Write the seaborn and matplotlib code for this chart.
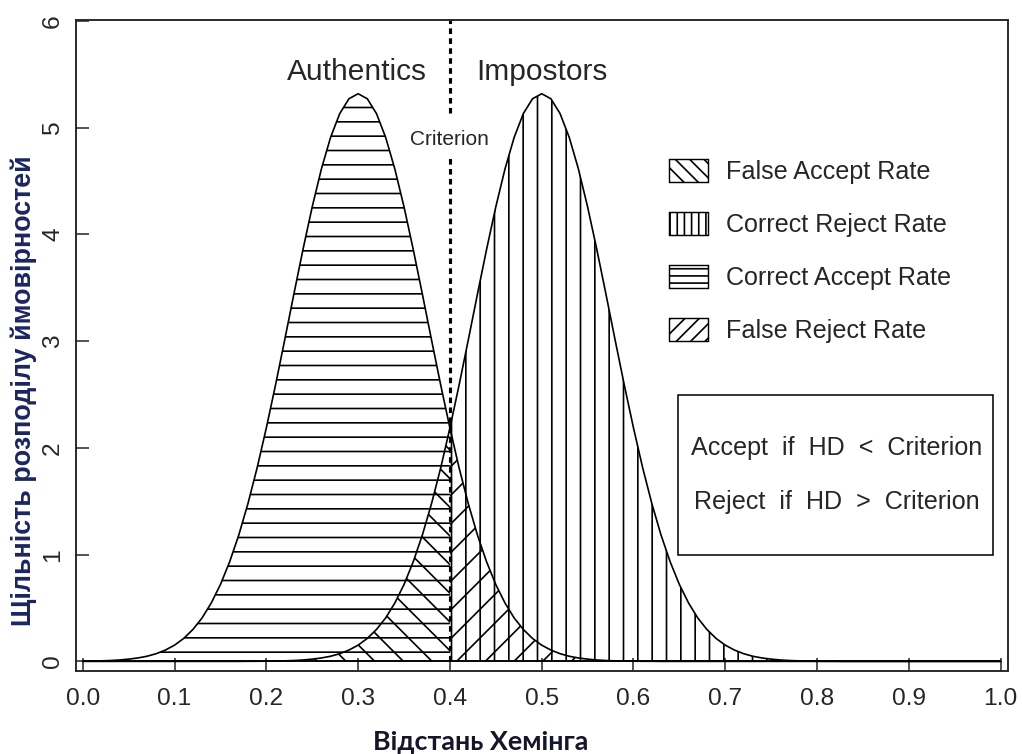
#%%
import numpy as np
import pandas as pd
import seaborn as sns
import matplotlib.pyplot as plt
from matplotlib.patches import Patch, Rectangle

# hamming distance grid, step 0.01
hd = np.round(np.arange(101) * 0.01, 2)

# density values (x = 0.00 ... 1.00)
authentics = [
    0.002, 0.003, 0.005, 0.008, 0.013, 0.021, 0.032, 0.048, 0.072, 0.106,
    0.152, 0.215, 0.299, 0.407, 0.547, 0.720, 0.932, 1.184, 1.479, 1.814,
    2.187, 2.589, 3.011, 3.441, 3.862, 4.259, 4.614, 4.910, 5.133, 5.272,
    5.319, 5.272, 5.133, 4.910, 4.614, 4.259, 3.862, 3.441, 3.011, 2.589,
    2.187, 1.814, 1.479, 1.184, 0.932, 0.720, 0.547, 0.407, 0.299, 0.215,
    0.152, 0.106, 0.072, 0.048, 0.032, 0.021, 0.013, 0.008, 0.005, 0.003,
    0.002, 0.001, 0.001, 0, 0, 0, 0, 0, 0, 0,
    0, 0, 0, 0, 0, 0, 0, 0, 0, 0,
    0, 0, 0, 0, 0, 0, 0, 0, 0, 0,
    0, 0, 0, 0, 0, 0, 0, 0, 0, 0,
    0,
]
impostors = [
    0, 0, 0, 0, 0, 0, 0, 0, 0, 0,
    0, 0, 0, 0, 0, 0, 0, 0, 0.001, 0.001,
    0.002, 0.003, 0.005, 0.008, 0.013, 0.021, 0.032, 0.048, 0.072, 0.106,
    0.152, 0.215, 0.299, 0.407, 0.547, 0.720, 0.932, 1.184, 1.479, 1.814,
    2.187, 2.589, 3.011, 3.441, 3.862, 4.259, 4.614, 4.910, 5.133, 5.272,
    5.319, 5.272, 5.133, 4.910, 4.614, 4.259, 3.862, 3.441, 3.011, 2.589,
    2.187, 1.814, 1.479, 1.184, 0.932, 0.720, 0.547, 0.407, 0.299, 0.215,
    0.152, 0.106, 0.072, 0.048, 0.032, 0.021, 0.013, 0.008, 0.005, 0.003,
    0.002, 0.001, 0.001, 0, 0, 0, 0, 0, 0, 0,
    0, 0, 0, 0, 0, 0, 0, 0, 0, 0,
    0,
]
criterion = 0.4

legend_labels = ['False Accept Rate', 'Correct Reject Rate',
                 'Correct Accept Rate', 'False Reject Rate']
x_ticks = [0.0, 0.1, 0.2, 0.3, 0.4, 0.5, 0.6, 0.7, 0.8, 0.9, 1.0]
y_ticks = [0, 1, 2, 3, 4, 5, 6]

df = pd.DataFrame({'hd': hd, 'authentics': authentics, 'impostors': impostors})

#%%
sns.set_style('ticks')
plt.rcParams['font.family'] = ['Liberation Sans', 'DejaVu Sans']
plt.rcParams['hatch.linewidth'] = 1.4

DPI = 86
fig, ax = plt.subplots(figsize=(1022 / DPI, 754 / DPI), dpi=DPI)
fig.subplots_adjust(left=0.0744, right=0.9863, bottom=0.1101, top=0.9735)

left = df['hd'] <= criterion
right = df['hd'] >= criterion

# shaded areas
ax.fill_between(df['hd'], 0, df['authentics'], where=left, facecolor='none',
                edgecolor='black', hatch='-', linewidth=0)
ax.fill_between(df['hd'], 0, df['impostors'], where=right, facecolor='none',
                edgecolor='black', hatch='|', linewidth=0)
ax.fill_between(df['hd'], 0, df['impostors'], where=left, facecolor='none',
                edgecolor='black', hatch='\\', linewidth=0)
ax.fill_between(df['hd'], 0, df['authentics'], where=right, facecolor='none',
                edgecolor='black', hatch='/', linewidth=0)

# curves
sns.lineplot(data=df, x='hd', y='authentics', color='black', lw=1.4, ax=ax)
sns.lineplot(data=df, x='hd', y='impostors', color='black', lw=1.4, ax=ax)
ax.hlines(0, df['hd'].min(), df['hd'].max(), color='black', lw=1.6)

# criterion line (broken around its label)
ax.vlines(criterion, 5.14, 6.01, color='black', lw=2.6, linestyles=(0, (1.8, 1.4)))
ax.vlines(criterion, 0, 4.72, color='black', lw=2.6, linestyles=(0, (1.8, 1.4)))

ax.text(0.299, 5.52, 'Authentics', ha='center', va='center', fontsize=25)
ax.text(0.5005, 5.52, 'Impostors', ha='center', va='center', fontsize=25)
ax.text(criterion, 4.89, 'Criterion', ha='center', va='center', fontsize=17.5)

# legend
handles = [
    Patch(facecolor='white', edgecolor='black', hatch='\\\\', lw=1.2),
    Patch(facecolor='white', edgecolor='black', hatch='||', lw=1.2),
    Patch(facecolor='white', edgecolor='black', hatch='--', lw=1.2),
    Patch(facecolor='white', edgecolor='black', hatch='//', lw=1.2),
]
ax.legend(handles, legend_labels, loc='upper left', bbox_to_anchor=(0.636, 0.787),
          frameon=False, fontsize=21, handlelength=1.56, handleheight=1.08,
          labelspacing=1.1, handletextpad=0.72, borderpad=0, borderaxespad=0)

# decision rule box
ax.add_patch(Rectangle((0.646, 0.178), 0.338, 0.246, transform=ax.transAxes,
                       facecolor='none', edgecolor='black', lw=1.3))
ax.text(0.8165, 0.3425, 'Accept  if  HD  <  Criterion', transform=ax.transAxes,
        ha='center', va='center', fontsize=21)
ax.text(0.8165, 0.2596, 'Reject  if  HD  >  Criterion', transform=ax.transAxes,
        ha='center', va='center', fontsize=21)

# axes
ax.set_xlim(-0.0073, 1.008)
ax.set_ylim(-0.09, 6.01)
ax.set_xticks(x_ticks)
ax.set_xticklabels([f'{t:.1f}' for t in x_ticks])
ax.set_yticks(y_ticks)
ax.set_yticklabels([str(t) for t in y_ticks], rotation=90, va='center')
ax.tick_params(direction='in', length=11, width=1.3, labelsize=20.5)
ax.tick_params(axis='x', pad=14)
ax.tick_params(axis='y', pad=10)
for s in ax.spines.values():
    s.set_linewidth(1.6)
    s.set_visible(True)

ax.set_xlabel('Відстань Хемінга', fontsize=22.5, fontweight='bold',
              family=['Lato', 'DejaVu Sans'], color='#16162a')
ax.xaxis.set_label_coords(0.4345, -0.091)
ax.set_ylabel('Щільність розподілу ймовірностей', fontsize=22.5, fontweight='bold',
              family=['Liberation Sans Narrow', 'Liberation Sans', 'DejaVu Sans'],
              color='#1b2560')
ax.yaxis.set_label_coords(-0.042, 0.43)

fig.savefig('out.png', dpi=DPI)
